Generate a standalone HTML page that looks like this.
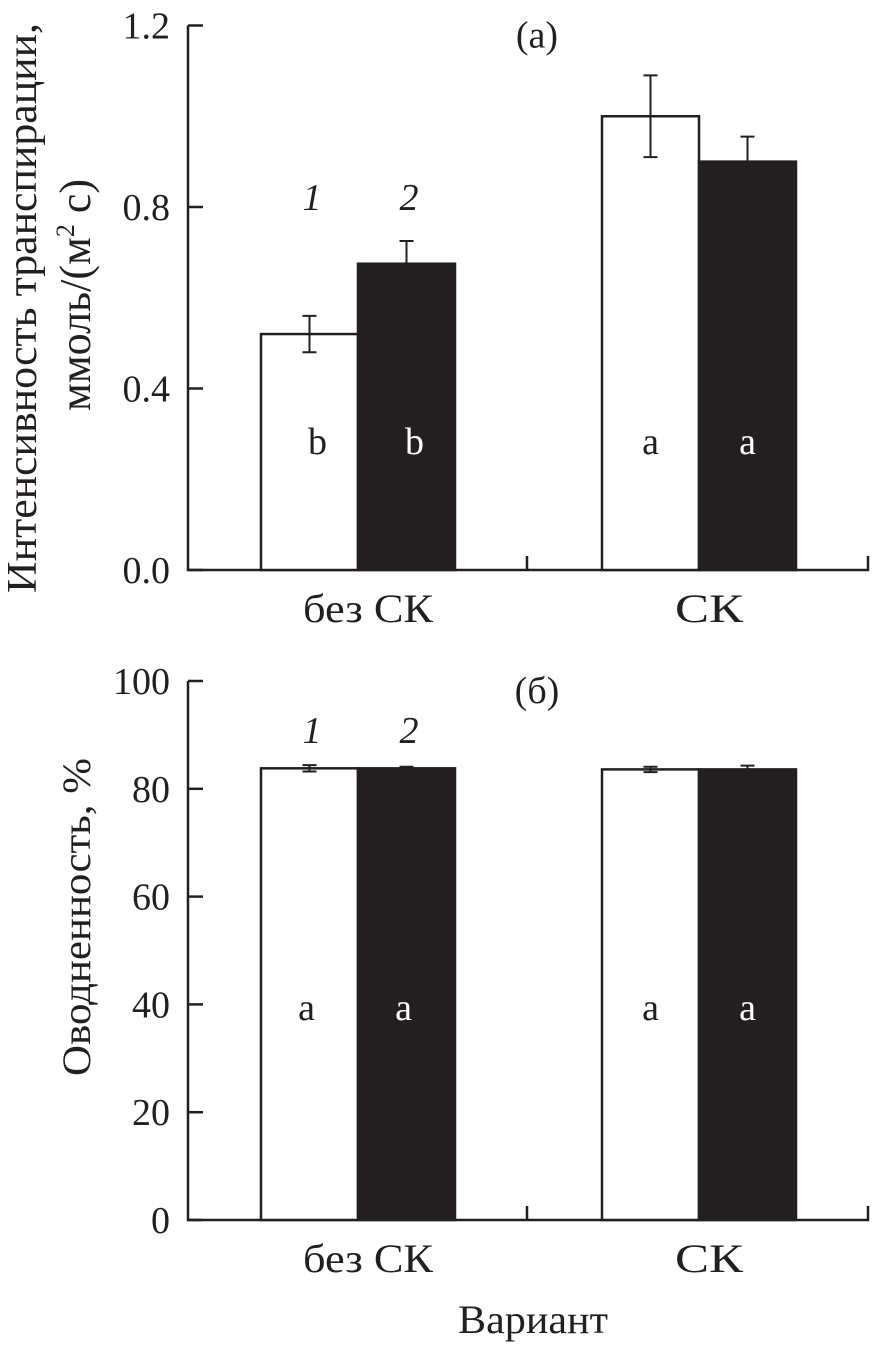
<!DOCTYPE html>
<html><head><meta charset="utf-8"><style>
html,body{margin:0;padding:0;background:#fff}
svg text{font-family:"Liberation Serif",serif;fill:#231f20}
</style></head><body>
<svg id="c" width="872" height="1346" xmlns="http://www.w3.org/2000/svg">
<text font-size="42" transform="translate(36,308) rotate(-90)" text-anchor="middle" textLength="570" lengthAdjust="spacingAndGlyphs">Интенсивность транспирации,</text>
<text font-size="44" transform="translate(90,295) rotate(-90)" text-anchor="middle">ммоль/(м<tspan font-size="26" dy="-16">2</tspan><tspan dy="16"> с)</tspan></text>
<text font-size="40" transform="translate(90,917) rotate(-90)" text-anchor="middle" textLength="318" lengthAdjust="spacingAndGlyphs">Оводненность, %</text>
<text x="533" y="1333" font-size="40" text-anchor="middle" textLength="150" lengthAdjust="spacingAndGlyphs">Вариант</text>
</svg>
<script>
const groups=["без СК","СК"];
const aWhite=[0.52,1.0];
const aWhiteErr=[0.04,0.09];
const aBlack=[0.675,0.9];
const aBlackErr=[0.05,0.055];
const aLetters=[["b","b"],["a","a"]];
const aTicks=[0.0,0.4,0.8,1.2];
const bWhite=[83.8,83.6];
const bWhiteErr=[0.6,0.5];
const bBlack=[83.8,83.6];
const bBlackErr=[0.3,0.7];
const bLetters=[["a","a"],["a","a"]];
const bTicks=[0,20,40,60,80,100];
const NS="http://www.w3.org/2000/svg";
const svg=document.getElementById('c');
function mk(t,a,p){const e=document.createElementNS(NS,t);for(const k in a)e.setAttribute(k,a[k]);(p||svg).appendChild(e);return e;}
function panel(o){
  const y=v=>o.y0-(v-o.min)/(o.max-o.min)*(o.y0-o.y1);
  const g=mk('g',{});
  
  
  const ax=mk('path',{d:`M188 ${o.y1}V${o.y0}H868V${o.y0-14}M527 ${o.y0}V${o.y0-14}`,stroke:'#231f20','stroke-width':2.5,fill:'none'},g);
  
  
  o.ticks.forEach(t=>{
    const l=mk('line',{x1:188,x2:203,y1:y(t),y2:y(t),stroke:'#231f20','stroke-width':2.5},g);
    
    
    const tx=mk('text',{x:170,y:y(t)+13,'font-size':38,'text-anchor':'end'},g);
    tx.textContent=o.fmt(t);
    
    
  });
  const cx=[358,699];
  const lw=[130,68];
  groups.forEach((gn,i)=>{
    const lab=mk('text',{x:cx[i]+10,y:o.y0+52,'font-size':40,'text-anchor':'middle',textLength:lw[i],lengthAdjust:'spacingAndGlyphs'},g);
    lab.textContent=gn;
    
    
    [[o.white,o.wErr,'#fff',-97,'#231f20'],[o.black,o.bErr,'#231f20',0,'#fff']].forEach((s,k)=>{
      const x=cx[i]+s[3], v=s[0][i], e=s[1][i];
      const r=mk('rect',{x:x,y:y(v),width:97,height:o.y0-y(v),fill:s[2],stroke:'#231f20','stroke-width':2.5},g);
      
      
      const m=x+48.5;
      const eb=mk('path',{d:`M${m} ${y(v+e)}V${y(k?v:v-e)}M${m-7} ${y(v+e)}H${m+7}`+(k?'':`M${m-7} ${y(v-e)}H${m+7}`),stroke:'#231f20','stroke-width':2,fill:'none'},g);
      
      
      const lt=mk('text',{x:m+(i===0?o.shift:0),y:o.letterY,'font-size':38,'text-anchor':'middle',style:'fill:'+s[4]},g);
      lt.textContent=o.letters[i][k];
      
      
    });
  });
  [[312,'1'],[409,'2']].forEach(([x,t])=>{
    const n=mk('text',{x:x,y:o.numY,'font-size':38,'font-style':'italic','text-anchor':'middle'},g);
    n.textContent=t;
    
    
  });
  const tt=mk('text',{x:537,y:o.y1+22,'font-size':38,'text-anchor':'middle'},g);
  tt.textContent=o.title;
  
  
}
panel({name:'chart-a',y0:570,y1:25.5,min:0,max:1.2,ticks:aTicks,fmt:t=>t.toFixed(1),white:aWhite,wErr:aWhiteErr,black:aBlack,bErr:aBlackErr,letters:aLetters,letterY:454,numY:210,title:'(а)',shift:8});
panel({name:'chart-b',y0:1220,y1:681,min:0,max:100,ticks:bTicks,fmt:t=>String(t),white:bWhite,wErr:bWhiteErr,black:bBlack,bErr:bBlackErr,letters:bLetters,letterY:1020,numY:743,title:'(б)',shift:-3});
</script>
</body></html>
